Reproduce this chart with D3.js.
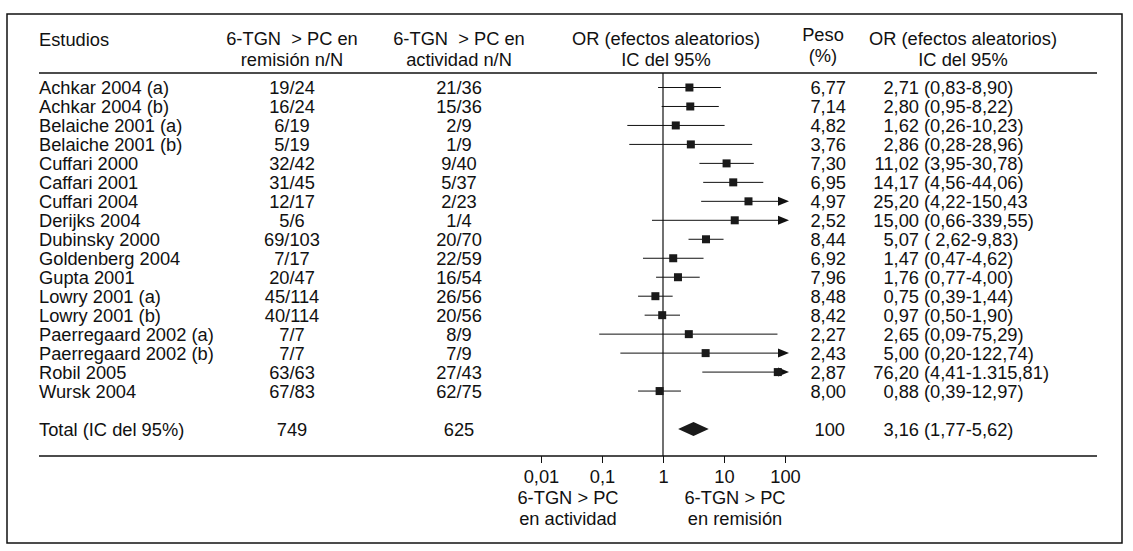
<!DOCTYPE html>
<html>
<head>
<meta charset="utf-8">
<script src="https://cdn.jsdelivr.net/npm/d3@7"></script>
<style>
    body { margin: 0; background: #fff; }
    text {
        font-family: "Liberation Sans", Arial, Helvetica, sans-serif;
        font-size: 18.3px;
        fill: #111;
        white-space: pre;
    }
</style>
</head>
<body>
<svg id="vis" width="1133" height="551"></svg>
<script>
const studies = [
    "Achkar 2004 (a)", "Achkar 2004 (b)", "Belaiche 2001 (a)", "Belaiche 2001 (b)",
    "Cuffari 2000", "Caffari 2001", "Cuffari 2004", "Derijks 2004", "Dubinsky 2000",
    "Goldenberg 2004", "Gupta 2001", "Lowry 2001 (a)", "Lowry 2001 (b)",
    "Paerregaard 2002 (a)", "Paerregaard 2002 (b)", "Robil 2005", "Wursk 2004"
];
const remision = ["19/24", "16/24", "6/19", "5/19", "32/42", "31/45", "12/17", "5/6", "69/103",
    "7/17", "20/47", "45/114", "40/114", "7/7", "7/7", "63/63", "67/83"];
const actividad = ["21/36", "15/36", "2/9", "1/9", "9/40", "5/37", "2/23", "1/4", "20/70",
    "22/59", "16/54", "26/56", "20/56", "8/9", "7/9", "27/43", "62/75"];

// odds ratio and interval as drawn
const orVal = [2.71, 2.80, 1.62, 2.86, 11.02, 14.17, 25.20, 15.00, 5.07, 1.47, 1.76, 0.75, 0.97, 2.65, 5.00, 76.20, 0.88];
const ciLo = [0.83, 0.95, 0.26, 0.28, 3.95, 4.56, 4.22, 0.66, 2.62, 0.47, 0.77, 0.39, 0.50, 0.09, 0.20, 4.41, 0.39];
const ciHi = [8.90, 8.22, 10.23, 28.96, 30.78, 44.06, 150.43, 339.55, 9.83, 4.62, 4.00, 1.44, 1.90, 75.29, 122.74, 1315.81, 1.97];
const peso = [6.77, 7.14, 4.82, 3.76, 7.30, 6.95, 4.97, 2.52, 8.44, 6.92, 7.96, 8.48, 8.42, 2.27, 2.43, 2.87, 8.00];

// right column, as printed
const orLabels = ["2,71 (0,83-8,90)", "2,80 (0,95-8,22)", "1,62 (0,26-10,23)", "2,86 (0,28-28,96)",
    "11,02 (3,95-30,78)", "14,17 (4,56-44,06)", "25,20 (4,22-150,43", "15,00 (0,66-339,55)",
    "5,07 ( 2,62-9,83)", "1,47 (0,47-4,62)", "1,76 (0,77-4,00)", "0,75 (0,39-1,44)",
    "0,97 (0,50-1,90)", "2,65 (0,09-75,29)", "5,00 (0,20-122,74)", "76,20 (4,41-1.315,81)",
    "0,88 (0,39-12,97)"];

const total = { label: "Total (IC del 95%)", remision: "749", actividad: "625", peso: "100",
    or: 3.16, lo: 1.77, hi: 5.62, text: "3,16 (1,77-5,62)" };

const tickValues = [0.01, 0.1, 1, 10, 100];
const tickLabels = ["0,01", "0,1", "1", "10", "100"];

const locale = d3.formatLocale({ decimal: ",", thousands: ".", grouping: [3], currency: ["", ""] });
const fmt2 = locale.format(".2f");

const svg = d3.select("svg#vis");

const x = d3.scaleLog().domain([0.01, 100]).range([541, 785]);
const y = d3.scaleLinear().domain([0, 18]).range([87.5, 429]);
const xClip = x(100) + 4;
const left = 39, right = 1097;
const colRem = 292, colAct = 459, colPeso = 846, colOr = 919;
const base = 6.6;

// frame
svg.append("rect")
    .attr("x", 7).attr("y", 14).attr("width", 1115).attr("height", 529)
    .attr("fill", "none").attr("stroke", "#111").attr("stroke-width", 1.5);

// header
const header = svg.append("g");
header.append("text").attr("x", left).attr("y", 46).text("Estudios");
[[colRem, ["6-TGN  > PC en", "remisión n/N"]],
 [colAct, ["6-TGN  > PC en", "actividad n/N"]],
 [666, ["OR (efectos aleatorios)", "IC del 95%"]],
 [963, ["OR (efectos aleatorios)", "IC del 95%"]]].forEach(([cx, lines]) => {
    lines.forEach((l, i) => {
        header.append("text").attr("x", cx).attr("y", 45 + i * 21)
            .attr("text-anchor", "middle").text(l);
    });
});
header.append("text").attr("x", 823).attr("y", 41).attr("text-anchor", "middle").text("Peso");
header.append("text").attr("x", 823).attr("y", 62).attr("text-anchor", "middle").text("(%)");

svg.append("line")
    .attr("x1", left).attr("x2", right).attr("y1", 73).attr("y2", 73)
    .attr("stroke", "#111").attr("stroke-width", 1.3);

// table columns
const rows = svg.append("g");
studies.forEach((s, i) => {
    const by = y(i) + base;
    rows.append("text").attr("x", left).attr("y", by).text(s);
    rows.append("text").attr("x", colRem).attr("y", by).attr("text-anchor", "middle").text(remision[i]);
    rows.append("text").attr("x", colAct).attr("y", by).attr("text-anchor", "middle").text(actividad[i]);
    rows.append("text").attr("x", colPeso).attr("y", by).attr("text-anchor", "end").text(fmt2(peso[i]));
    const k = orLabels[i].indexOf(" ");
    rows.append("text").attr("x", colOr).attr("y", by).attr("text-anchor", "end").text(orLabels[i].slice(0, k));
    rows.append("text").attr("x", colOr + 5).attr("y", by).text(orLabels[i].slice(k + 1));
});

const ty = y(18) + base;
rows.append("text").attr("x", left).attr("y", ty).text(total.label);
rows.append("text").attr("x", colRem).attr("y", ty).attr("text-anchor", "middle").text(total.remision);
rows.append("text").attr("x", colAct).attr("y", ty).attr("text-anchor", "middle").text(total.actividad);
rows.append("text").attr("x", colPeso - 1).attr("y", ty).attr("text-anchor", "end").text(total.peso);
{
    const k = total.text.indexOf(" ");
    rows.append("text").attr("x", colOr).attr("y", ty).attr("text-anchor", "end").text(total.text.slice(0, k));
    rows.append("text").attr("x", colOr + 5).attr("y", ty).text(total.text.slice(k + 1));
}

// line of no effect
svg.append("line")
    .attr("x1", x(1)).attr("x2", x(1)).attr("y1", 73).attr("y2", 456)
    .attr("stroke", "#111").attr("stroke-width", 1.2);

// study marks
const marks = svg.append("g");
const data = orVal.map((v, i) => ({ or: v, lo: ciLo[i], hi: ciHi[i], i }));

marks.selectAll("line.ci")
    .data(data)
    .enter()
    .append("line")
    .attr("class", "ci")
    .attr("x1", d => x(d.lo))
    .attr("x2", d => d.hi > x.invert(xClip) ? xClip - 10 : x(d.hi))
    .attr("y1", d => y(d.i)).attr("y2", d => y(d.i))
    .attr("stroke", "#111").attr("stroke-width", 1);

marks.selectAll("path.arrow")
    .data(data.filter(d => d.hi > x.invert(xClip)))
    .enter()
    .append("path")
    .attr("class", "arrow")
    .attr("d", d => `M${xClip - 11},${y(d.i) - 4.5}L${xClip},${y(d.i)}L${xClip - 11},${y(d.i) + 4.5}Z`)
    .attr("fill", "#111");

const sq = 8;
marks.selectAll("rect.or")
    .data(data)
    .enter()
    .append("rect")
    .attr("class", "or")
    .attr("x", d => x(d.or) - sq / 2)
    .attr("y", d => y(d.i) - sq / 2)
    .attr("width", sq).attr("height", sq)
    .attr("fill", "#1a1a1a");

// pooled diamond
const dy = y(18);
marks.append("path")
    .attr("d", `M${x(total.lo)},${dy}L${x(total.or)},${dy - 7}L${x(total.hi)},${dy}L${x(total.or)},${dy + 7}Z`)
    .attr("fill", "#1a1a1a");

// axis
svg.append("line")
    .attr("x1", left).attr("x2", right).attr("y1", 456).attr("y2", 456)
    .attr("stroke", "#111").attr("stroke-width", 1.3);

const axis = svg.append("g")
    .attr("transform", "translate(0,456)")
    .call(d3.axisBottom(x).tickValues(tickValues).tickFormat((d, i) => tickLabels[i])
        .tickSize(7).tickPadding(7));
axis.select(".domain").remove();
axis.selectAll("line").attr("stroke", "#111");
axis.selectAll("text")
    .attr("fill", "#111")
    .style("font-family", '"Liberation Sans", Arial, Helvetica, sans-serif')
    .style("font-size", "18.3px");

[[568, ["6-TGN > PC", "en actividad"]], [735, ["6-TGN > PC", "en remisión"]]].forEach(([cx, lines]) => {
    lines.forEach((l, i) => {
        svg.append("text").attr("x", cx).attr("y", 504 + i * 21)
            .attr("text-anchor", "middle").text(l);
    });
});
</script>
</body>
</html>
